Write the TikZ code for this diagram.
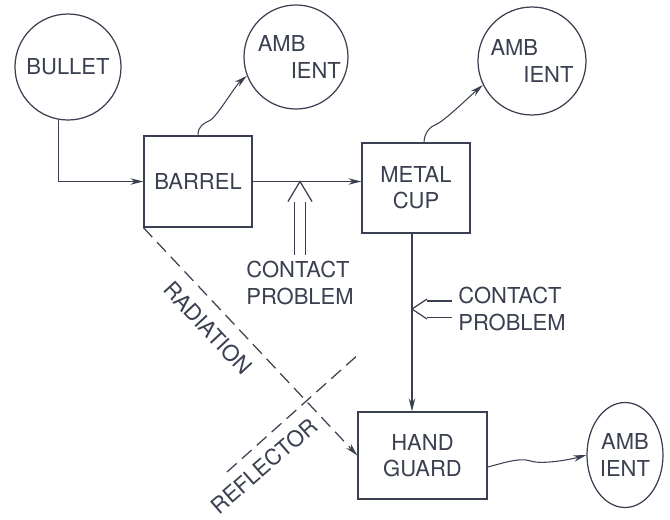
\documentclass[tikz,border=0pt]{standalone}
\usepackage{fontspec}
\setmainfont{TeX Gyre Heros}
\usetikzlibrary{shapes.geometric,arrows.meta,calc}
\definecolor{slate}{HTML}{3B4050}
\colorlet{ink}{slate}

\begin{document}
\begin{tikzpicture}[x=0.2mm, y=-0.2mm, line width=0.7pt, color=ink,
                    every node/.append style={font=\fontsize{12.5}{15}\selectfont},
                    blk/.style={draw, rectangle, inner sep=0pt, align=center},
                    amb/.style={draw, circle, inner sep=0pt, align=left},
                    flow/.style={-{Stealth[length=2.6mm, width=1.3mm]}},
                    heat/.style={flow, line width=0.6pt},
                    ray/.style={dash pattern=on 2.6mm off 1.4mm},
                    cp/.style={double, double distance=#1}]
\useasboundingbox (0,0) rectangle (670,520);
\node[amb, minimum size=21.2mm] (bullet) at (68,67) {BULLET};
\node[amb, minimum size=20.8mm] (amb1) at (296,57) {\hspace{0.3em}AMB\\\hspace{1.8em}IENT};
\node[amb, minimum size=21.6mm] (amb2) at (532,61) {AMB\\\hspace{1.5em}IENT};
\node[draw, ellipse, inner sep=0pt, minimum width=15.2mm, minimum height=21mm,
      align=center] (amb3) at (625,455) {AMB\\IENT};
\node[blk, minimum width=21.6mm, minimum height=18.2mm] (barrel) at (198,181.5) {BARREL};
\node[blk, minimum width=21.6mm, minimum height=18mm] (cup) at (416,188) {METAL\\CUP};
\node[blk, minimum width=25.8mm, minimum height=17.4mm] (hand) at (422.5,455.5) {HAND\\GUARD};
\node[align=left] (cp1) at (300,283) {CONTACT\\PROBLEM};
\node[align=left, anchor=west] (cp2) at (452,309) {CONTACT\\PROBLEM};
\node[rotate=-47] (rad) at (208,328) {RADIATION};
\node[rotate=41] (refl) at (264,466) {REFLECTOR};
% flow of heat
\draw[flow] (bullet.260) |- (barrel.west);
\draw[flow] (barrel.east) -- (barrel.east -| cup.west);
\draw[flow] (cup.-95) -- (cup.-95 |- hand.north);
\draw[flow, ray] (barrel.south west) -- (hand.west);
% losses to ambient
\draw[heat] (barrel.north) .. controls +(0,-10) and +(-6,3) .. ++(12,-15)
            .. controls +(8,-5) and +(-12,10) .. (amb1.201);
\draw[heat] (cup.80) .. controls +(0,-9) and +(-6,2) .. ++(12,-18)
            .. controls +(8,-3) and +(-14,12) .. (amb2.206);
\draw[heat] (hand.-10) .. controls +(13,-3) and +(-12,-4) .. ++(43,-6)
            .. controls +(12,4) and +(-14,4) .. (amb3.west);
% contact problems
\coordinate (cp1t) at (cp1.north |- barrel.east);
\coordinate (cp2t) at (cp2.west -| cup.-95);
\draw[cp=2.1mm, shorten >=4mm] (cp1.north) -- (cp1t);
\draw ([shift={(-12,20)}]cp1t) -- (cp1t) -- ([shift={(12,20)}]cp1t);
\draw[cp=3mm, shorten >=3mm] (cp2.west) -- (cp2t);
\draw ([shift={(15,-10)}]cp2t) -- (cp2t) -- ([shift={(15,10)}]cp2t);
% reflector
\coordinate (rf1) at (227,472);
\coordinate (rf2) at (360,353);
\draw[ray] (rf1) -- (rf2);
\end{tikzpicture}
\end{document}
